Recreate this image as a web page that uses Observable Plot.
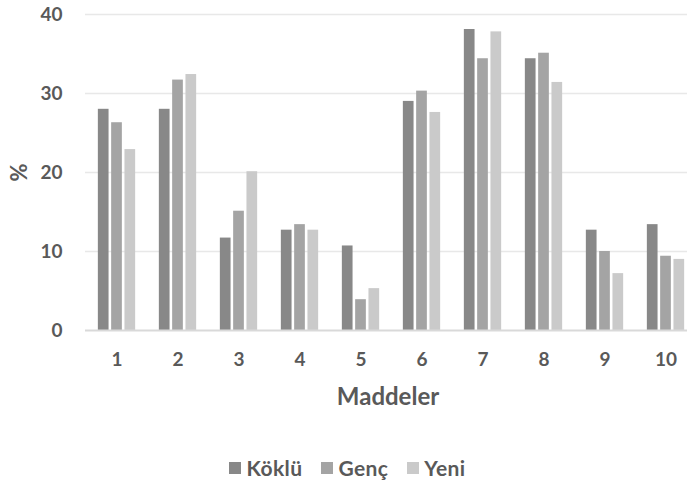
<!DOCTYPE html>
<html>
<head>
<meta charset="utf-8">
<script src="https://cdn.jsdelivr.net/npm/d3@7"></script>
<script src="https://cdn.jsdelivr.net/npm/@observablehq/plot@0.6"></script>
<style>
  html, body { margin: 0; padding: 0; background: #fff; overflow: hidden; }
  #chart { width: 687px; }
  .legend { display: flex; justify-content: center; align-items: center; gap: 19px;
    font-family: Lato, "Open Sans", sans-serif; font-weight: 700; font-size: 21px; color: #595959;
    margin-top: 35px; padding-left: 8px; letter-spacing: 0.4px; }
  .legend span.item { display: inline-flex; align-items: center; }
  .legend span.sw { width: 12px; height: 12px; margin-right: 5px; display: inline-block; }
</style>
</head>
<body>
<div id="chart"></div>
<script>
// Item numbers on the x axis
const items = ["1", "2", "3", "4", "5", "6", "7", "8", "9", "10"];
// Group names and their fills
const groups = ["Köklü", "Genç", "Yeni"];
const groupColors = ["#888888", "#a4a4a4", "#cacaca"];
// Percentages per item for each group
const koklu = [28.0, 28.0, 11.7, 12.7, 10.7, 29.0, 38.1, 34.4, 12.7, 13.4];
const genc  = [26.3, 31.7, 15.1, 13.4, 3.9, 30.3, 34.4, 35.1, 10.0, 9.4];
const yeni  = [22.9, 32.4, 20.1, 12.7, 5.3, 27.6, 37.8, 31.4, 7.2, 9.0];
const yTicks = [0, 10, 20, 30, 40];
const xTitle = "Maddeler";
const yTitle = "%";

const series = [koklu, genc, yeni];
const rows = groups.map((g, gi) => items.map((it, i) => ({item: it, group: g, value: series[gi][i]})));

const textColor = "#595959";
const font = "Lato, 'Open Sans', sans-serif";

// Three bars per item: each bar series is narrowed inside the item band and shifted sideways
const barWidth = 10.7, step = 13.3, band = 61;
const inset = (band - barWidth) / 2;
const barMarks = rows.map((data, gi) =>
  Plot.barY(data, {
    x: "item", y: "value", fill: groupColors[gi],
    insetLeft: inset, insetRight: inset, dx: (gi - 1) * step
  })
);

const chart = Plot.plot({
  width: 687,
  height: 420,
  marginTop: 14,
  marginLeft: 85,
  marginRight: -9,
  marginBottom: 90,
  style: {fontFamily: font, fontWeight: 700, color: textColor, background: "#fff", overflow: "visible"},
  x: {domain: items, padding: 0},
  y: {domain: [0, 40]},
  marks: [
    Plot.ruleY(yTicks.filter(d => d > 0), {stroke: "#e8e8e8", strokeWidth: 1.5}),
    ...barMarks,
    Plot.ruleY([0], {stroke: "#d9d9d9", strokeWidth: 2}),
    Plot.axisX({tickSize: 0, tickPadding: 22, fontSize: 19, fontWeight: 700, fill: textColor, label: null}),
    Plot.axisY({ticks: yTicks, tickSize: 0, tickPadding: 23, fontSize: 19, fontWeight: 700, fill: textColor, label: null}),
    Plot.text([xTitle], {frameAnchor: "bottom", lineAnchor: "middle", dy: 67, dx: -3,
      fontSize: 24, fill: textColor, fontWeight: 700}),
    Plot.text([yTitle], {frameAnchor: "left", textAnchor: "middle", lineAnchor: "middle", dx: -66,
      rotate: -90, fontSize: 22, fill: textColor, fontWeight: 700})
  ]
});
document.getElementById("chart").appendChild(chart);

// Legend under the chart
const legend = document.createElement("div");
legend.className = "legend";
groups.forEach((g, gi) => {
  const item = document.createElement("span");
  item.className = "item";
  const sw = document.createElement("span");
  sw.className = "sw";
  sw.style.background = groupColors[gi];
  item.appendChild(sw);
  item.appendChild(document.createTextNode(g));
  legend.appendChild(item);
});
document.getElementById("chart").appendChild(legend);
</script>
</body>
</html>
